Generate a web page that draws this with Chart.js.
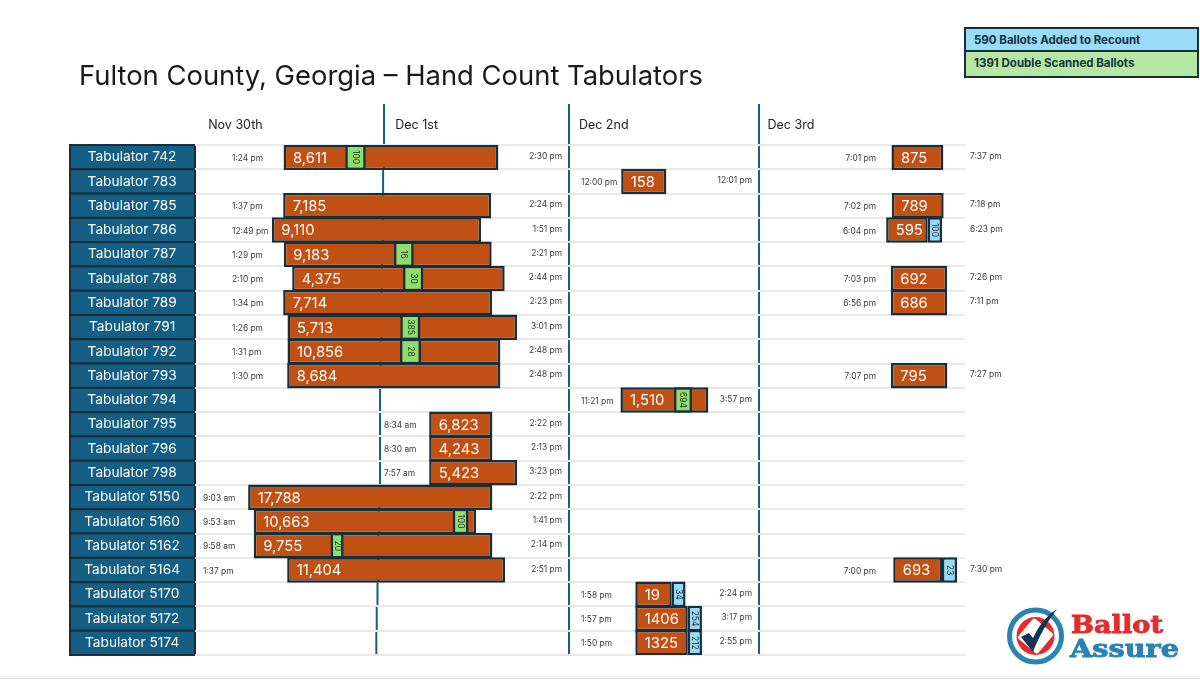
<!DOCTYPE html>
<html>
<head>
<meta charset="utf-8">
<title>Fulton County, Georgia – Hand Count Tabulators</title>
<script src="https://cdn.jsdelivr.net/npm/chart.js@4"></script>
<style>
  html, body { margin: 0; padding: 0; background: #fff; }
  body { width: 1200px; height: 680px; position: relative; overflow: hidden; font-family: Inter, sans-serif; }
  canvas { position: absolute; left: 0; top: 0; }
  h1 { position: absolute; left: 79px; top: 58px; margin: 0; font-size: 27.4px; line-height: 34px; font-weight: 400; color: #1a1a1a; white-space: nowrap; }
  #key { position: absolute; left: 964px; top: 27px; width: 231px; border: 2px solid #14303f; font-size: 11.5px; font-weight: 700; color: #14303f; }
  #key div { box-sizing: border-box; height: 23px; line-height: 22px; padding-left: 8px; }
  #key .added { background: #99dcf8; border-bottom: 2px solid #14303f; }
  #key .double { background: #b5e6a2; height: 24px; }
  #logo { position: absolute; left: 1005px; top: 603px; }
  #footline { position: absolute; left: 0; top: 678px; width: 1200px; height: 1px; background: #dcdcdc; }
</style>
</head>
<body>
<canvas id="chart" width="1200" height="680"></canvas>
<h1>Fulton County, Georgia – Hand Count Tabulators</h1>
<div id="key">
  <div class="added">590 Ballots Added to Recount</div>
  <div class="double">1391 Double Scanned Ballots</div>
</div>
<svg id="logo" width="180" height="70" viewBox="0 0 180 70">
  <circle cx="30.5" cy="33" r="26" fill="#fff" stroke="#2b83b5" stroke-width="5"/>
  <circle cx="30.5" cy="33" r="19" fill="#e22d2a"/>
  <rect x="17.5" y="20" width="26" height="26" rx="2" fill="#fff" transform="rotate(40 30.5 33)"/>
  <path d="M16 34 L24 30 L28 35 C33 24 41 13 52 6 C43 18 34 33 28 49 Z" fill="#14335a"/>
  <g font-family="'DejaVu Serif'" font-weight="700" font-size="24.5" stroke-width="0.9">
    <text x="66" y="30" fill="#e22d2a" stroke="#e22d2a" textLength="92" lengthAdjust="spacingAndGlyphs">Ballot</text>
    <text x="65" y="54" fill="#2b83b5" stroke="#2b83b5" textLength="109" lengthAdjust="spacingAndGlyphs">Assure</text>
  </g>
</svg>
<div id="footline"></div>
<script>
const tabulators = ['Tabulator 742', 'Tabulator 783', 'Tabulator 785', 'Tabulator 786', 'Tabulator 787', 'Tabulator 788', 'Tabulator 789', 'Tabulator 791', 'Tabulator 792', 'Tabulator 793', 'Tabulator 794', 'Tabulator 795', 'Tabulator 796', 'Tabulator 798', 'Tabulator 5150', 'Tabulator 5160', 'Tabulator 5162', 'Tabulator 5164', 'Tabulator 5170', 'Tabulator 5172', 'Tabulator 5174'];

// the time axis of the slide is only schematic, so these are hours after
// midnight on Nov 30 as the bars are drawn, not the times printed beside them
const firstRun = [[11.50, 39.40], null, [11.45, 38.45], [9.98, 37.15], [11.53, 38.53], [12.62, 40.22], [11.45, 38.58], [12.01, 41.83], [12.01, 39.66], [11.97, 39.66], null, [30.41, 38.62], [30.41, 38.62], [30.41, 41.83], [6.90, 38.62], [7.63, 36.50], [7.63, 38.62], [11.97, 40.27], null, null, null];
const firstCounts = ['8,611', null, '7,185', '9,110', '9,183', '4,375', '7,714', '5,713', '10,856', '8,684', null, '6,823', '4,243', '5,423', '17,788', '10,663', '9,755', '11,404', null, null, null];
const firstStarts = ['1:24 pm', null, '1:37 pm', '12:49 pm', '1:29 pm', '2:10 pm', '1:34 pm', '1:26 pm', '1:31 pm', '1:30 pm', null, '8:34 am', '8:30 am', '7:57 am', '9:03 am', '9:53 am', '9:58 am', '1:37 pm', null, null, null];
const firstEnds = ['2:30 pm', null, '2:24 pm', '1:51 pm', '2:21 pm', '2:44 pm', '2:23 pm', '3:01 pm', '2:48 pm', '2:48 pm', null, '2:22 pm', '2:13 pm', '3:23 pm', '2:22 pm', '1:41 pm', '2:14 pm', '2:51 pm', null, null, null];

const dec2Run = [null, [55.35, 61.22], null, null, null, null, null, null, null, null, [55.25, 66.67], null, null, null, null, null, null, null, [57.18, 61.92], [57.18, 64.00], [57.18, 64.00]];
const dec2Counts = [null, '158', null, null, null, null, null, null, null, null, '1,510', null, null, null, null, null, null, null, '19', '1406', '1325'];
const dec2Starts = [null, '12:00 pm', null, null, null, null, null, null, null, null, '11:21 pm', null, null, null, null, null, null, null, '1:58 pm', '1:57 pm', '1:50 pm'];
const dec2Ends = [null, '12:01 pm', null, null, null, null, null, null, null, null, '3:57 pm', null, null, null, null, null, null, null, '2:24 pm', '3:17 pm', '2:55 pm'];

const dec3Run = [[90.45, 97.19], null, [90.49, 97.23], [89.76, 95.16], null, [90.36, 97.67], [90.36, 97.67], null, null, [90.36, 97.71], null, null, null, null, null, null, null, [90.68, 97.01], null, null, null];
const dec3Counts = ['875', null, '789', '595', null, '692', '686', null, null, '795', null, null, null, null, null, null, null, '693', null, null, null];
const dec3Starts = ['7:01 pm', null, '7:02 pm', '6:04 pm', null, '7:03 pm', '6:56 pm', null, null, '7:07 pm', null, null, null, null, null, null, null, '7:00 pm', null, null, null];
const dec3Ends = ['7:37 pm', null, '7:18 pm', '6:23 pm', null, '7:26 pm', '7:11 pm', null, null, '7:27 pm', null, null, null, null, null, null, null, '7:30 pm', null, null, null];

const doubleScanned = [[19.52, 22.17], null, null, null, [25.84, 28.40], [27.01, 29.65], null, [26.66, 29.26], [26.62, 29.35], null, [62.21, 64.55], null, null, null, null, [33.47, 35.52], [17.60, 19.30], null, null, null, null];
const doubleCounts = ['100', null, null, null, '16', '30', null, '385', '28', null, '694', null, null, null, null, '100', '20', null, null, null, null];
const addedBallots = [null, null, null, [95.16, 97.01], null, null, null, null, null, null, null, null, null, null, null, null, null, [97.01, 98.96], [61.92, 63.71], [64.00, 65.84], [64.00, 65.84]];
const addedCounts = [null, null, null, '100', null, null, null, null, null, null, null, null, null, null, null, null, null, '23', '34', '254', '212'];

const dayNames = ['Nov 30th', 'Dec 1st', 'Dec 2nd', 'Dec 3rd'];
const dayTicks = [5.25, 28.78, 53.08, 77.39];
// the Dec 1 rule leans a little on the slide
const dec1Rule = [24.55, 24.43, 24.4, 24.4, 24.3, 24.3, 24.2, 24.2, 24.1, 24.1, 24.03, 24.03, 24.03, 24.03, 23.9, 23.9, 23.8, 23.8, 23.7, 23.6, 23.55];
const dec2Rule = 48.57;
const dec3Rule = 73.25;

const navy = '#14303f';
const rust = '#c05014';
const teal = '#155f84';

function runDataset(data, counts, starts, ends, startAt, endAt) {
  return { data, counts, starts, ends, startAt, endAt, backgroundColor: rust, order: 2 };
}

function insertDataset(data, counts, color) {
  return { data, insertCounts: counts, backgroundColor: color, order: 1 };
}

const slidePlugin = {
  id: 'slide',
  // row boxes and day rules go first so the grid lines cut the rules into segments
  beforeDraw(chart) {
    const { ctx, scales: { x, y }, chartArea } = chart;
    const rowH = y.getPixelForValue(1) - y.getPixelForValue(0);
    ctx.save();
    tabulators.forEach((name, i) => {
      const top = y.getPixelForValue(i) - rowH / 2;
      ctx.fillStyle = teal;
      ctx.strokeStyle = navy;
      ctx.lineWidth = 2;
      ctx.fillRect(70, top, chartArea.left - 70, rowH);
      ctx.strokeRect(70, top, chartArea.left - 70, rowH);

      ctx.fillStyle = teal;
      [dec1Rule[i], dec2Rule, dec3Rule].forEach(h => {
        ctx.fillRect(x.getPixelForValue(h) - 1, top, 2, rowH);
      });
    });
    [dec1Rule[0], dec2Rule, dec3Rule].forEach(h => {
      ctx.fillRect(x.getPixelForValue(h) - 1, 104, 2, chartArea.top - 104);
    });
    ctx.restore();
  },
  afterDatasetsDraw(chart) {
    const { ctx } = chart;
    ctx.save();
    ctx.textBaseline = 'middle';
    chart.data.datasets.forEach((ds, d) => {
      const bars = chart.getDatasetMeta(d).data;
      ds.data.forEach((v, i) => {
        if (!v) return;
        const bar = bars[i];
        if (ds.counts) {
          ctx.fillStyle = '#fff';
          ctx.font = '14.8px Inter';
          ctx.textAlign = 'left';
          ctx.fillText(ds.counts[i], bar.base + 9.5, bar.y + 1);

          ctx.fillStyle = '#3a3a3a';
          ctx.font = '8.4px Inter';
          const s = ds.startAt(i), e = ds.endAt;
          ctx.textAlign = s.align;
          ctx.fillText(ds.starts[i], s.x, bar.y + 1);
          ctx.textAlign = e.align;
          ctx.fillText(ds.ends[i], e.x, bar.y - 1);
        } else {
          ctx.save();
          ctx.translate((bar.base + bar.x) / 2, bar.y);
          ctx.rotate(Math.PI / 2);
          ctx.fillStyle = '#1c2b1c';
          ctx.font = '8.5px Inter';
          ctx.textAlign = 'center';
          ctx.fillText(ds.insertCounts[i], 0, 0);
          ctx.restore();
        }
      });
    });
    ctx.restore();
  }
};

function firstStartColumn(i) {
  if (i >= 11 && i <= 13) return { x: 384, align: 'left' };
  if (i >= 14 && i <= 17) return { x: 203, align: 'left' };
  return { x: 232, align: 'left' };
}

new Chart(document.getElementById('chart'), {
  type: 'bar',
  data: {
    labels: tabulators,
    datasets: [
      runDataset(firstRun, firstCounts, firstStarts, firstEnds, firstStartColumn, { x: 562, align: 'right' }),
      runDataset(dec2Run, dec2Counts, dec2Starts, dec2Ends, () => ({ x: 581, align: 'left' }), { x: 752, align: 'right' }),
      runDataset(dec3Run, dec3Counts, dec3Starts, dec3Ends, () => ({ x: 876, align: 'right' }), { x: 970, align: 'left' }),
      insertDataset(doubleScanned, doubleCounts, '#8fdc6f'),
      insertDataset(addedBallots, addedCounts, '#93dcf8')
    ]
  },
  options: {
    indexAxis: 'y',
    responsive: false,
    animation: false,
    layout: { padding: { left: 70, right: 235, top: 100, bottom: 25 } },
    datasets: {
      bar: {
        grouped: false,
        barPercentage: 1.05,
        categoryPercentage: 1,
        borderColor: navy,
        borderWidth: 2.5,
        borderSkipped: false
      }
    },
    plugins: { legend: { display: false }, tooltip: { enabled: false }, title: { display: false } },
    scales: {
      x: {
        type: 'linear',
        position: 'top',
        min: 0,
        max: 100,
        grid: { display: false },
        border: { display: false },
        afterFit(scale) { scale.height = 45; },
        afterBuildTicks(scale) { scale.ticks = dayTicks.map(value => ({ value })); },
        ticks: {
          autoSkip: false,
          maxRotation: 0,
          padding: 4,
          color: '#222',
          font: { family: 'Inter', size: 12.5 }, 
          callback: (value, i) => dayNames[i]
        }
      },
      y: {
        type: 'category',
        offset: true,
        grid: { offset: true, color: '#e8e8e8', lineWidth: 2, drawTicks: false },
        border: { display: false },
        afterFit(scale) { scale.width = 125; },
        ticks: {
          autoSkip: false,
          padding: 15,
          crossAlign: 'center',
          color: '#fff',
          font: { family: 'Inter', size: 13.7 }
        }
      }
    }
  },
  plugins: [slidePlugin]
});
</script>
</body>
</html>
